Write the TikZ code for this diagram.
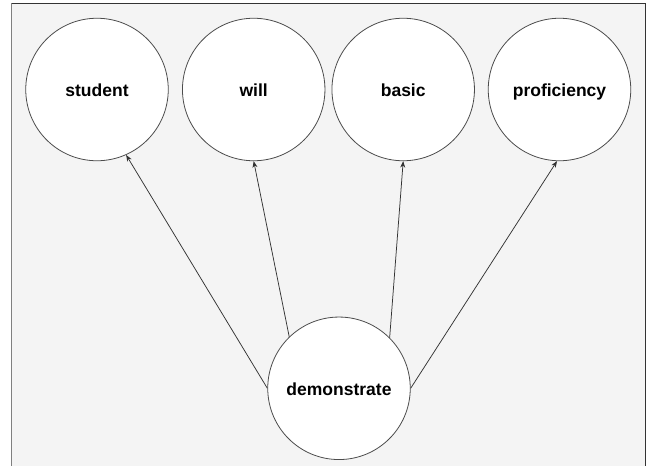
\documentclass[tikz,border=0pt]{standalone}
\usepackage{fontspec}
\setmainfont{Liberation Sans}
\usetikzlibrary{arrows.meta}
\begin{document}
\begin{tikzpicture}[x=1pt,y=-1pt,
  word/.style={circle, draw=black!70, line width=0.8pt, fill=white,
    minimum size=142.5pt, inner sep=0pt, text height=14.5pt, text depth=0pt,
    font=\fontsize{17.5}{20}\selectfont\bfseries},
  link/.style={draw=black!80, line width=0.75pt,
    -{Stealth[length=6.5pt,width=5pt]}}]
  \useasboundingbox (0,0) rectangle (651,466);
  % panel
  \fill[black!4.5] (11.5,3.3) rectangle (645.5,470);
  \draw[black!50, line width=1.4pt] (11.5,466) -- (11.5,3.3);
  \draw[black!80, line width=1.2pt] (11.5,3.3) -- (645.5,3.3) -- (645.5,466);
  % word nodes
  \node[word] (student) at (97,89.5) {student};
  \node[word] (will) at (253.7,89.5) {will};
  \node[word] (basic) at (403.2,89.5) {basic};
  \node[word] (proficiency) at (559.5,89.5) {proficiency};
  \node[word] (demonstrate) at (339,388.3) {demonstrate};
  % connectors
  \draw[link] (demonstrate.180) -- (student.294);
  \draw[link] (demonstrate.134) -- (will.270);
  \draw[link] (demonstrate.45) -- (basic.270);
  \draw[link] (demonstrate.0) -- (proficiency.268);
\end{tikzpicture}
\end{document}
